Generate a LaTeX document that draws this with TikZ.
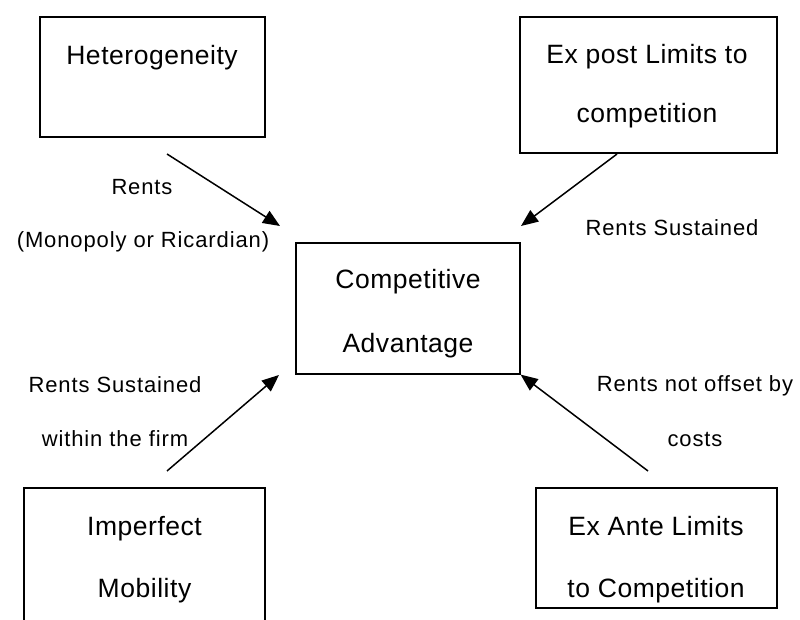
\documentclass[tikz,border=0pt]{standalone}
\usepackage{fontspec}
\setmainfont{Liberation Sans}
\newfontfamily\boxfont[LetterSpace=2]{Liberation Sans}
\newfontfamily\lblfont[LetterSpace=4]{Liberation Sans}
\usetikzlibrary{arrows.meta}

\begin{document}
\begin{tikzpicture}[x=1pt, y=-1pt,
    box/.style={draw, line width=1.2pt, inner sep=0pt},
    boxtext/.style={anchor=base, inner sep=0pt, font=\boxfont\fontsize{26.5}{30}\selectfont},
    lbl/.style={anchor=base, inner sep=0pt, font=\lblfont\fontsize{22}{25}\selectfont},
    arr/.style={line width=1.5pt, -{Triangle[length=17pt,width=14pt]}}]
      \clip (0,0) rectangle (800,620);
      \fill[white] (0,0) rectangle (800,620);

      % The five boxes
      \node[box, minimum width=225pt, minimum height=120pt] (het) at (152.5,77) {};
      \node[box, minimum width=257pt, minimum height=136pt] (expost) at (648.5,85) {};
      \node[box, minimum width=224pt, minimum height=131pt] (comp) at (408,308.5) {};
      \node[box, minimum width=241pt, minimum height=170pt] (mob) at (144.5,573) {};
      \node[box, minimum width=241pt, minimum height=120pt] (exante) at (656.5,548) {};

      % Box texts
      \node[boxtext] (hett) at (152,65) {Heterogeneity};
      \node[boxtext] (expostt1) at (647,64) {Ex post Limits to};
      \node[boxtext] (expostt2) at (647,123) {competition};
      \node[boxtext] (compt1) at (408,288) {Competitive};
      \node[boxtext] (compt2) at (408,352) {Advantage};
      \node[boxtext] (mobt1) at (144.5,535) {Imperfect};
      \node[boxtext] (mobt2) at (144.5,597) {Mobility};
      \node[boxtext] (exantet1) at (656,535) {Ex Ante Limits};
      \node[boxtext] (exantet2) at (656,597) {to Competition};

      % Ends of the arrows
      \coordinate (hetout) at (167,154);
      \coordinate (expostout) at (617,154);
      \coordinate (mobout) at (167,471);
      \coordinate (exanteout) at (648,471);
      \coordinate (compnw) at (280,226);
      \coordinate (compne) at (521,226);
      \coordinate (compsw) at (279,375);
      \coordinate (compse) at (comp.south east);

      % Arrows
      \draw[arr] (hetout) -- (compnw);
      \draw[arr] (expostout) -- (compne);
      \draw[arr] (mobout) -- (compsw);
      \draw[arr] (exanteout) -- (compse);

      % Arrow labels
      \node[lbl] (rents) at (142,195) {Rents};
      \node[lbl] (monop) at (143,248) {(Monopoly or Ricardian)};
      \node[lbl] (sust) at (672,236) {Rents Sustained};
      \node[lbl] (firm1) at (115,392) {Rents Sustained};
      \node[lbl] (firm2) at (115,446) {within the firm};
      \node[lbl] (costs1) at (695,391) {Rents not offset by};
      \node[lbl] (costs2) at (695,446) {costs};
\end{tikzpicture}
\end{document}
